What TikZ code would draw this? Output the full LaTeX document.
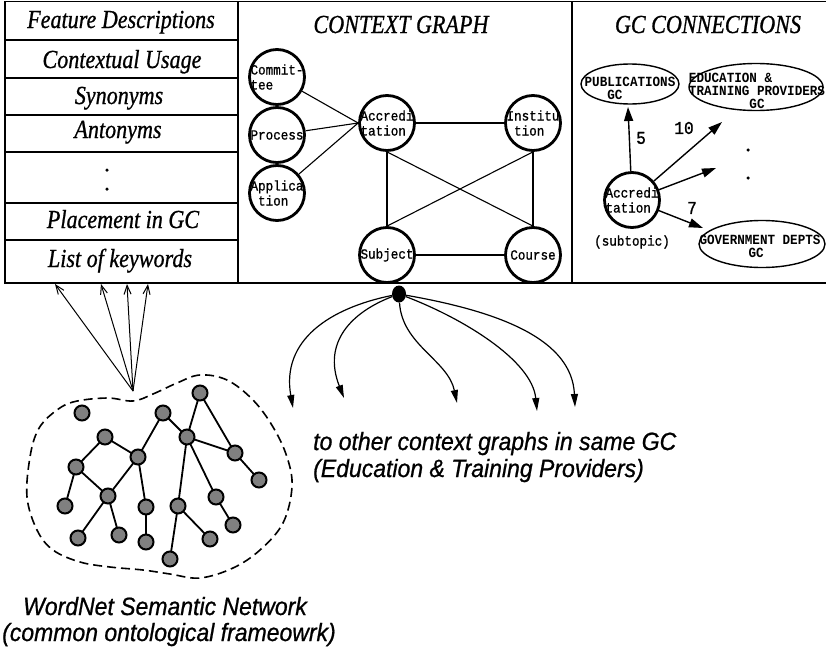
\documentclass[tikz,border=0pt]{standalone}
\usepackage{fontspec}
\setmainfont{Liberation Serif}
\newfontfamily\headfont{Liberation Serif}[FakeStretch=0.85, FakeBold=0.8]
\newfontfamily\notefont{Liberation Sans}[FakeStretch=0.92, FakeBold=0.8]
\newfontfamily\codefont{Liberation Mono}[FakeStretch=0.9, FakeBold=1]
\newfontfamily\gcfont{Liberation Mono}[FakeStretch=0.9]
\usetikzlibrary{arrows.meta,shapes.geometric}

\begin{document}
\begin{tikzpicture}[x=1pt,y=-1pt,
  frame/.style={line width=1.5pt},
  rowline/.style={line width=1.2pt},
  rowtext/.style={anchor=base, inner sep=0, font=\headfont\itshape\fontsize{26}{28}\selectfont},
  cnode/.style={circle, draw, line width=2.8pt, minimum size=55pt, inner sep=0},
  ctext/.style={align=left, inner sep=0, font=\codefont\fontsize{14}{15}\selectfont},
  gcell/.style={ellipse, draw, line width=1.4pt, inner sep=0},
  gctext/.style={inner sep=0, font=\gcfont\bfseries\fontsize{14}{13}\selectfont},
  numtext/.style={inner sep=0, font=\codefont\fontsize{18}{18}\selectfont},
  cedge/.style={line width=1.1pt},
  gcarrow/.style={line width=1.4pt, -{Triangle[length=14pt,width=9pt]}},
  fanarrow/.style={line width=1.2pt, -{Triangle[length=13pt,width=7pt]}},
  wnarrow/.style={line width=1pt, -{Straight Barb[length=9pt,width=7pt]}},
  wnode/.style={circle, draw=black, line width=2pt, fill=black!50, minimum size=15pt, inner sep=0},
  wedge/.style={line width=1.8pt},
  notetext/.style={inner sep=0, font=\notefont\itshape\fontsize{25}{27}\selectfont},
  dotmark/.style={circle, fill, inner sep=0, minimum size=3.5pt}
]
\useasboundingbox (0,0) rectangle (826,653);

% ---------- frame of the three panels ----------
\draw[frame] (826,1.5) -- (5,1.5) -- (5,283) -- (826,283);
\draw[frame] (238,1.5) -- (238,283);
\draw[frame] (572,1.5) -- (572,283);
\foreach \y in {40,78,115,152,203,240}
  \draw[rowline] (5,\y) -- (238,\y);

% ---------- feature list ----------
\node[rowtext] (fdesc) at (121,28)  {Feature Descriptions};
\node[rowtext] (cuse)  at (122,68)  {Contextual Usage};
\node[rowtext] (syn)   at (119,104) {Synonyms};
\node[rowtext] (ant)   at (118,138) {Antonyms};
\node[dotmark] (fdot1) at (107,170) {};
\node[dotmark] (fdot2) at (107,189) {};
\node[rowtext] (place) at (123,228) {Placement in GC};
\node[rowtext] (keys)  at (120,267) {List of keywords};

% ---------- context graph ----------
\node[rowtext] (cgtitle) at (401,33) {CONTEXT GRAPH};

\node[cnode] (cmt)  at (277,77)  {};
\node[cnode] (proc) at (277,135) {};
\node[cnode] (appl) at (277,193) {};
\node[cnode] (acc)  at (387,123) {};
\node[cnode] (inst) at (533,123) {};
\node[cnode] (subj) at (387,255) {};
\node[cnode] (crs)  at (533,255) {};

\node[ctext] (cmt-t)  at (cmt)  {Commit-\\tee};
\node[ctext] (proc-t) at (proc) {Process};
\node[ctext] (appl-t) at (appl) {Applica\\\hphantom{A}tion};
\node[ctext] (acc-t)  at (acc)  {Accredi\\tation};
\node[ctext] (inst-t) at (inst) {Institu\\\hphantom{I}tion};
\node[ctext] (subj-t) at (subj) {Subject};
\node[ctext] (crs-t)  at (crs)  {Course};

\draw[cedge] (cmt)  -- (acc.west);
\draw[cedge] (proc) -- (acc.west);
\draw[cedge] (appl) -- (acc.west);
\draw[cedge] (acc)  -- (inst);
\draw[cedge] (acc.south)  -- (subj.north);
\draw[cedge] (acc.south)  -- (crs.north);
\draw[cedge] (inst.south) -- (subj.north);
\draw[cedge] (inst.south) -- (crs.north);
\draw[cedge] (subj) -- (crs);

% ---------- GC connections ----------
\node[rowtext] (gctitle) at (708,33) {GC CONNECTIONS};

\node[gcell, minimum width=98pt,  minimum height=40pt] (pub) at (630,84)  {};
\node[gcell, minimum width=134pt, minimum height=47pt] (edu) at (756,87)  {};
\node[gcell, minimum width=126pt, minimum height=47pt] (gov) at (762,244) {};
\node[gctext, align=center] (pub-t) at (630,88) {PUBLICATIONS\\GC\hphantom{XXXX}};
\node[gctext, align=left]   (edu-t) at (757,91) {EDUCATION \&\\TRAINING PROVIDERS\\\hphantom{XXXXXXXX}GC};
\node[gctext, align=center] (gov-t) at (760,246) {GOVERNMENT DEPTS\\GC\hphantom{X}};

\node[cnode] (gcacc) at (632,200) {};
\node[ctext] (gcacc-t) at (gcacc) {Accredi\\tation};
\node[ctext] (subt) at (632,242) {(subtopic)};

\coordinate (tpub) at (628,107);
\coordinate (tedu) at (722,122);
\coordinate (tmid) at (716,168);
\coordinate (tgov) at (703,228);
\draw[gcarrow] (gcacc) -- (tpub);
\draw[gcarrow] (gcacc) -- (tedu);
\draw[gcarrow] (gcacc) -- (tmid);
\draw[gcarrow] (gcacc) -- (tgov);

\node[numtext] (n5)  at (641,138) {5};
\node[numtext] (n10) at (684,128) {10};
\node[numtext] (n7)  at (692,208) {7};
\node[dotmark] (gdot1) at (748,150) {};
\node[dotmark] (gdot2) at (748,178) {};

% ---------- links to other context graphs ----------
\node[ellipse, fill, minimum width=14pt, minimum height=17pt, inner sep=0] (hub) at (399,294) {};
\coordinate (f1) at (293,408);
\coordinate (f2) at (344,398);
\coordinate (f3) at (457,403);
\coordinate (f4) at (537,411);
\coordinate (f5) at (575,407);
\draw[fanarrow] (hub) .. controls (330,308) and (281,340) .. (f1);
\draw[fanarrow] (hub) .. controls (352,312) and (322,342) .. (f2);
\draw[fanarrow] (hub) .. controls (402,345) and (448,360) .. (f3);
\draw[fanarrow] (hub) .. controls (462,318) and (532,360) .. (f4);
\draw[fanarrow] (hub) .. controls (502,312) and (572,340) .. (f5);

\node[notetext, anchor=base west] (other1) at (313,450) {to other context graphs in same GC};
\node[notetext, anchor=base west] (other2) at (313,477) {(Education \& Training Providers)};

% ---------- WordNet network ----------
\draw[line width=1.6pt, dash pattern=on 9pt off 5pt]
  plot[smooth cycle, tension=0.6] coordinates {
    (133,401) (153,394) (177,383) (200,375) (227,380) (253,400) (273,427)
    (287,457) (292,487) (283,523) (260,550) (233,568) (200,578) (170,574)
    (143,570) (110,567) (80,562) (53,550) (37,530) (27,497) (30,457)
    (38,430) (53,413) (73,402) (107,398)};

\coordinate (wn) at (133,391);
\coordinate (k1) at (55,284);
\coordinate (k2) at (101,284);
\coordinate (k3) at (127,284);
\coordinate (k4) at (148,284);
\foreach \k in {k1,k2,k3,k4}
  \draw[wnarrow] (wn) -- (\k);

\foreach \n/\px/\py in {a/82/413, b/163/413, c/200/393, d/105/437,
                        e/187/437, f/138/457, g/235/453, h/76/467,
                        i/259/480, j/108/496, k/216/497, l/65/506,
                        m/146/507, n/178/506, o/78/538, p/119/535,
                        q/146/542, r/210/539, s/233/525, t/170/559}
  \coordinate (w\n) at (\px,\py);

\foreach \u/\v in {d/f, d/h, f/b, b/e, c/e, c/g, e/g, g/i, e/k, k/s,
                   h/j, f/j, f/m, h/l, j/o, j/p, m/q, e/n, n/r, n/t}
  \draw[wedge] (w\u) -- (w\v);

\foreach \n in {a,b,c,d,e,f,g,h,i,j,k,l,m,n,o,p,q,r,s,t}
  \node[wnode] (wn\n) at (w\n) {};

\node[notetext, anchor=base] (wnet1) at (165,615) {WordNet Semantic Network};
\node[notetext, anchor=base] (wnet2) at (169,641) {(common ontological frameowrk)};
\end{tikzpicture}
\end{document}
